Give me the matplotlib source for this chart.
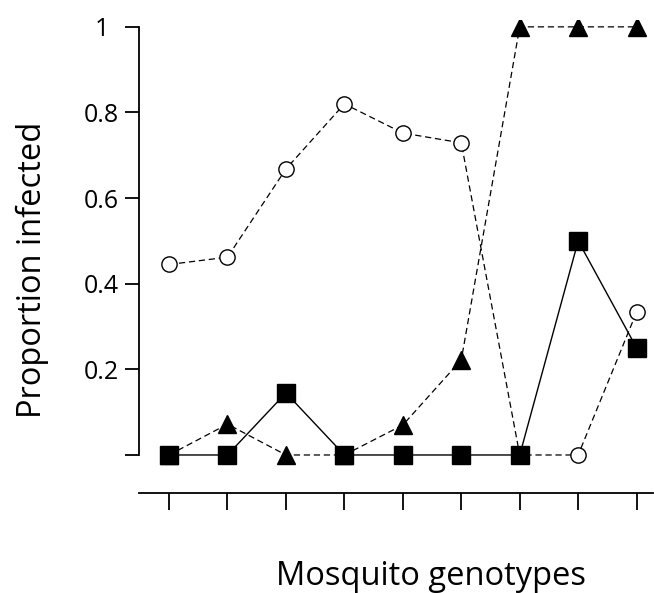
import numpy as np
import matplotlib
matplotlib.use('Agg')
import matplotlib.pyplot as plt

plt.rcParams['font.family'] = ['Open Sans', 'DejaVu Sans']

genotypes = np.arange(1, 10)
circles = [0.445, 0.462, 0.668, 0.820, 0.752, 0.729, 0.0, 0.0, 0.334]
triangles = [0.0, 0.072, 0.0, 0.0, 0.070, 0.222, 1.0, 1.0, 1.0]
squares = [0.0, 0.0, 0.145, 0.0, 0.0, 0.0, 0.0, 0.50, 0.250]

ytick_vals = [0, 0.2, 0.4, 0.6, 0.8, 1]
ytick_labels = ['', '0.2', '0.4', '0.6', '0.8', '1']

fig = plt.figure(figsize=(6.54, 5.93), dpi=100)
ax = fig.add_axes([139 / 654, 100 / 593, 514 / 654, 473 / 593])

ax.plot(genotypes, circles, linestyle=(0, (5, 3)), color='black', linewidth=0.9,
        marker='o', markersize=11, markerfacecolor='white', markeredgecolor='black',
        markeredgewidth=1.0, zorder=2)
ax.plot(genotypes, triangles, linestyle=(0, (5, 3)), color='black', linewidth=0.9,
        marker='^', markersize=13, markerfacecolor='black', markeredgecolor='black', zorder=3)
ax.plot(genotypes, squares, linestyle='-', color='black', linewidth=1.0,
        marker='s', markersize=13, markerfacecolor='black', markeredgecolor='black', zorder=4)

ax.set_xlim(0.486, 9.28)
ax.set_ylim(-0.0888, 1.016)

ax.spines['top'].set_visible(False)
ax.spines['right'].set_visible(False)
ax.spines['left'].set_bounds(0, 1)
ax.spines['left'].set_linewidth(1.3)
ax.spines['bottom'].set_linewidth(1.3)

ax.set_xticks(genotypes)
ax.set_xticklabels([])
ax.tick_params(axis='x', direction='out', length=12, width=1.3)
ax.set_yticks(ytick_vals)
ax.set_yticklabels(ytick_labels, ha='center')
ax.tick_params(axis='y', direction='out', length=10, width=1.3, labelsize=18, pad=17)

ax.set_ylabel('Proportion infected', fontsize=23.5)
ax.yaxis.set_label_coords(-0.175, 0.471)
ax.set_xlabel('Mosquito genotypes', fontsize=23.5, va='baseline')
ax.xaxis.set_label_coords(0.568, -0.1945)

plt.savefig('out.png', dpi=100)
